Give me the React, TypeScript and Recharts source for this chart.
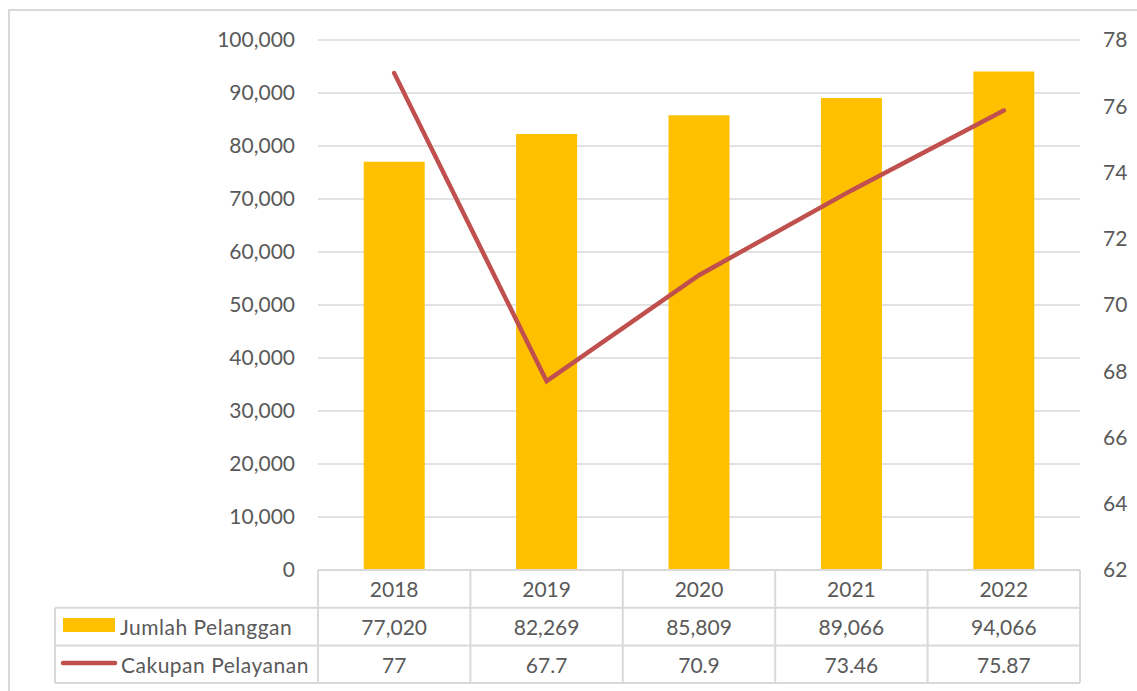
import React from "react";
import { Bar, CartesianGrid, ComposedChart, Line, XAxis, YAxis } from "recharts";

const years = ["2018", "2019", "2020", "2021", "2022"];
const jumlahPelanggan = [77020, 82269, 85809, 89066, 94066];
const cakupanPelayanan = [77, 67.7, 70.9, 73.46, 75.87];
const leftTicks = [0, 10000, 20000, 30000, 40000, 50000, 60000, 70000, 80000, 90000, 100000];
const rightTicks = [62, 64, 66, 68, 70, 72, 74, 76, 78];

const data = years.map((year, i) => ({
  year,
  jumlah: jumlahPelanggan[i],
  cakupan: cakupanPelayanan[i],
}));

const FONT = "Lato, 'Liberation Sans', sans-serif";
const FS = 21;
const TEXT = "#595959";
const GRID = "#D9D9D9";
const BAR = "#FFC000";
const LINE = "#C0504D";

const PLOT_LEFT = 318;
const PLOT_RIGHT = 1080;
const PLOT_BOTTOM = 570;
const BAND = (PLOT_RIGHT - PLOT_LEFT) / years.length;
const ROW_H = 37.7;

function TableTick(props: any) {
  const { x, y, payload } = props;
  const i = years.indexOf(String(payload.value));
  const left = x - BAND / 2;
  const right = x + BAND / 2;
  const last = i === years.length - 1;
  const bottom = y + ROW_H * 3;
  return (
    <g>
      <line x1={left} x2={left} y1={y} y2={bottom} stroke={GRID} strokeWidth={2} />
      {last && <line x1={right} x2={right} y1={y} y2={bottom} stroke={GRID} strokeWidth={2} />}
      <text x={x} y={y + ROW_H * 0.5} textAnchor="middle" dominantBaseline="central" fill={TEXT} fontSize={FS} fontFamily={FONT}>
        {payload.value}
      </text>
      <text x={x} y={y + ROW_H * 1.5} textAnchor="middle" dominantBaseline="central" fill={TEXT} fontSize={FS} fontFamily={FONT}>
        {jumlahPelanggan[i].toLocaleString("en-US")}
      </text>
      <text x={x} y={y + ROW_H * 2.5} textAnchor="middle" dominantBaseline="central" fill={TEXT} fontSize={FS} fontFamily={FONT}>
        {String(cakupanPelayanan[i])}
      </text>
    </g>
  );
}

export default function App() {
  const rows = [PLOT_BOTTOM + ROW_H, PLOT_BOTTOM + ROW_H * 2, PLOT_BOTTOM + ROW_H * 3];
  return (
    <div style={{ position: "absolute", left: 0, top: 0, width: 1137, height: 691, overflow: "hidden", background: "#fff" }}>
      <style>{`body{margin:0;overflow:hidden}`}</style>
      <div
        style={{
          position: "absolute",
          left: 8,
          top: 9,
          width: 1300,
          height: 900,
          borderLeft: `2px solid ${GRID}`,
          borderTop: `2px solid ${GRID}`,
        }}
      />
      <div style={{ position: "absolute", left: 0, top: 0 }}>
        <ComposedChart
          width={1137}
          height={691}
          data={data}
          margin={{ top: 40, right: 0, bottom: 8, left: 0 }}
          barCategoryGap="30%"
        >
          <CartesianGrid yAxisId="left" vertical={false} stroke={GRID} strokeWidth={1.5} />
          <XAxis
            dataKey="year"
            axisLine={false}
            tickLine={false}
            tickSize={0}
            tickMargin={0}
            height={113}
            interval={0}
            tick={<TableTick />}
          />
          <YAxis
            yAxisId="left"
            orientation="left"
            width={PLOT_LEFT}
            domain={[0, 100000]}
            ticks={leftTicks}
            axisLine={false}
            tickLine={false}
            tickSize={0}
            tickMargin={23}
            tickFormatter={(v: number) => v.toLocaleString("en-US")}
            tick={{ fill: TEXT, fontSize: FS, fontFamily: FONT }}
          />
          <YAxis
            yAxisId="right"
            orientation="right"
            width={1137 - PLOT_RIGHT}
            domain={[62, 78]}
            ticks={rightTicks}
            axisLine={false}
            tickLine={false}
            tickSize={0}
            tickMargin={23}
            tick={{ fill: TEXT, fontSize: FS, fontFamily: FONT }}
          />
          <Bar yAxisId="left" dataKey="jumlah" fill={BAR} isAnimationActive={false} />
          <Line
            yAxisId="right"
            dataKey="cakupan"
            type="linear"
            stroke={LINE}
            strokeWidth={4.5}
            strokeLinecap="round"
            dot={false}
            activeDot={false}
            isAnimationActive={false}
          />
        </ComposedChart>
      </div>
      <svg width={1137} height={691} style={{ position: "absolute", left: 0, top: 0, pointerEvents: "none" }}>
        <line x1={PLOT_LEFT} x2={PLOT_RIGHT} y1={PLOT_BOTTOM} y2={PLOT_BOTTOM} stroke={GRID} strokeWidth={2} />
        {rows.map((ry) => (
          <line key={ry} x1={55} x2={PLOT_RIGHT} y1={ry} y2={ry} stroke={GRID} strokeWidth={2} />
        ))}
        <line x1={55} x2={55} y1={rows[0]} y2={rows[2]} stroke={GRID} strokeWidth={2} />
        <rect x={63} y={618} width={52} height={14} fill={BAR} />
        <text x={120} y={PLOT_BOTTOM + ROW_H * 1.5} dominantBaseline="central" fill={TEXT} fontSize={FS} fontFamily={FONT} letterSpacing={0.5}>
          Jumlah Pelanggan
        </text>
        <line x1={63} x2={115} y1={663} y2={663} stroke={LINE} strokeWidth={4.5} strokeLinecap="round" />
        <text x={121} y={PLOT_BOTTOM + ROW_H * 2.5} dominantBaseline="central" fill={TEXT} fontSize={FS} fontFamily={FONT} letterSpacing={0.5}>
          Cakupan Pelayanan
        </text>
      </svg>
    </div>
  );
}
